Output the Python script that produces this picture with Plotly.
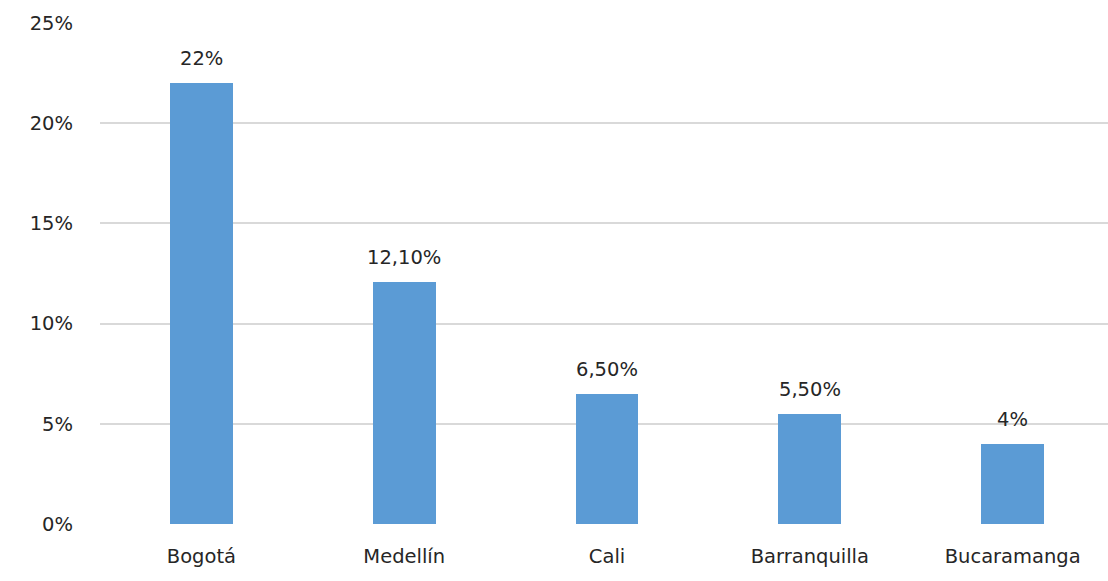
import plotly.graph_objects as go

ciudades = ["Bogotá", "Medellín", "Cali", "Barranquilla", "Bucaramanga"]
porcentajes = [22, 12.1, 6.5, 5.5, 4]
etiquetas = ["22%", "12,10%", "6,50%", "5,50%", "4%"]
marcas_y = [0, 5, 10, 15, 20, 25]
textos_y = ["0%", "5%", "10%", "15%", "20%", "25%"]

fuente = "'DejaVu Sans', sans-serif"
tam = 19.5

fig = go.Figure(
    go.Bar(
        x=list(range(len(ciudades))),
        y=porcentajes,
        width=0.31,
        marker=dict(color="#5B9BD5", line=dict(width=0)),
        hoverinfo="skip",
    )
)

for i, (v, t) in enumerate(zip(porcentajes, etiquetas)):
    fig.add_annotation(
        x=i, y=v, text=t, showarrow=False,
        yanchor="bottom", yshift=11,
        font=dict(family=fuente, size=tam, color="#262626"),
    )

fig.update_layout(
    width=1108, height=581,
    margin=dict(l=100, r=0, t=23, b=57),
    plot_bgcolor="white", paper_bgcolor="white",
    showlegend=False,
    font=dict(family=fuente, size=tam, color="#262626"),
    bargap=0,
)
fig.update_xaxes(
    range=[-0.5, 4.47],
    tickmode="array",
    tickvals=list(range(len(ciudades))),
    ticktext=ciudades,
    showgrid=False, zeroline=False, showline=False, ticks="",
    ticklabelstandoff=18,
)
fig.update_yaxes(
    range=[0, 25],
    tickmode="array",
    tickvals=marcas_y,
    ticktext=textos_y,
    showgrid=True, gridcolor="#D9D9D9", gridwidth=2,
    zeroline=False, showline=False, ticks="",
    ticklabelstandoff=26,
)

fig.write_html("out.html")
